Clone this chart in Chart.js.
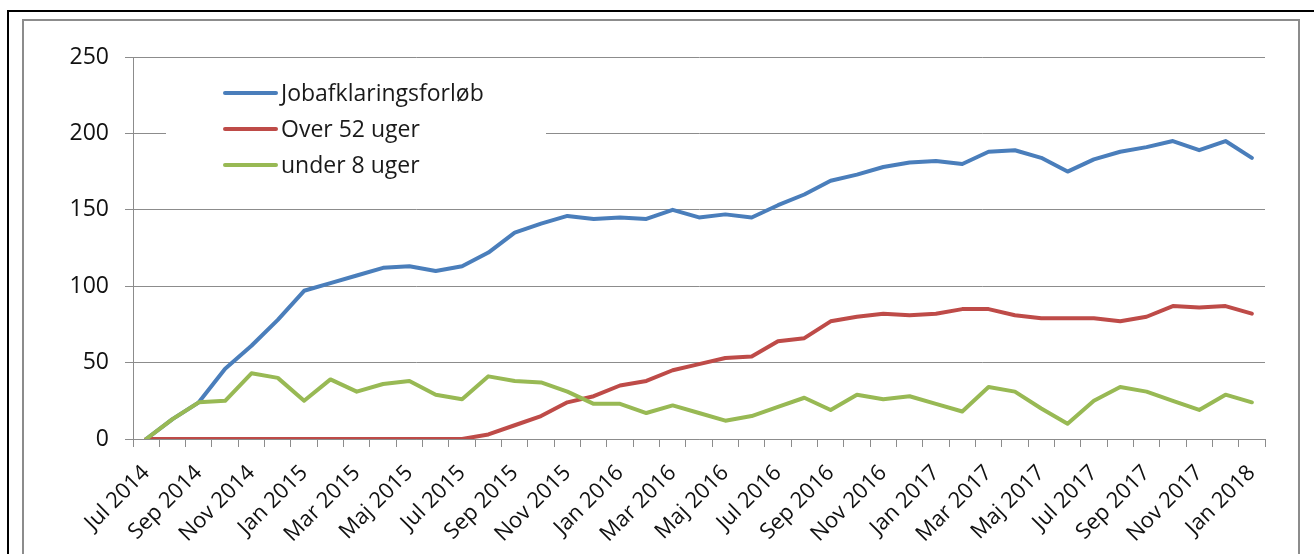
<!DOCTYPE html>
<html>
<head>
<meta charset="utf-8">
<script src="https://cdn.jsdelivr.net/npm/chart.js@4/dist/chart.umd.min.js"></script>
<style>
  html, body { margin: 0; padding: 0; background: #fff; overflow: hidden; }
  #outer { position: absolute; left: 7px; top: 10px; width: 1400px; height: 600px;
           border-top: 2px solid #000; border-left: 2px solid #000; }
  #inner { position: absolute; left: 22px; top: 19px; width: 1274px; height: 600px;
           border: 2px solid #8c8c8c; border-bottom: none; }
  #chart { position: absolute; left: 0; top: 0; }
</style>
</head>
<body>
<div id="outer"></div>
<div id="inner"></div>
<canvas id="chart" width="1314" height="554"></canvas>
<script>
var months = ['Jul 2014', 'Aug 2014', 'Sep 2014', 'Okt 2014', 'Nov 2014', 'Dec 2014',
  'Jan 2015', 'Feb 2015', 'Mar 2015', 'Apr 2015', 'Maj 2015', 'Jun 2015',
  'Jul 2015', 'Aug 2015', 'Sep 2015', 'Okt 2015', 'Nov 2015', 'Dec 2015',
  'Jan 2016', 'Feb 2016', 'Mar 2016', 'Apr 2016', 'Maj 2016', 'Jun 2016',
  'Jul 2016', 'Aug 2016', 'Sep 2016', 'Okt 2016', 'Nov 2016', 'Dec 2016',
  'Jan 2017', 'Feb 2017', 'Mar 2017', 'Apr 2017', 'Maj 2017', 'Jun 2017',
  'Jul 2017', 'Aug 2017', 'Sep 2017', 'Okt 2017', 'Nov 2017', 'Dec 2017',
  'Jan 2018'];

var jobafklaring = [0, 13, 24, 46, 61, 78, 97, 102, 107, 112, 113, 110,
  113, 122, 135, 141, 146, 144, 145, 144, 150, 145, 147, 145,
  153, 160, 169, 173, 178, 181, 182, 180, 188, 189, 184, 175,
  183, 188, 191, 195, 189, 195, 184];

var over52 = [0, 0, 0, 0, 0, 0, 0, 0, 0, 0, 0, 0,
  0, 3, 9, 15, 24, 28, 35, 38, 45, 49, 53, 54,
  64, 66, 77, 80, 82, 81, 82, 85, 85, 81, 79, 79,
  79, 77, 80, 87, 86, 87, 82];

var under8 = [0, 13, 24, 25, 43, 40, 25, 39, 31, 36, 38, 29,
  26, 41, 38, 37, 31, 23, 23, 17, 22, 17, 12, 15,
  21, 27, 19, 29, 26, 28, 23, 18, 34, 31, 20, 10,
  25, 34, 31, 25, 19, 29, 24];

var yTicks = [0, 50, 100, 150, 200, 250];

var FONT = '"Open Sans", "Liberation Sans", sans-serif';

// legend drawn inside the plot, on a white box like the original
var insideLegend = {
  id: 'insideLegend',
  afterDatasetsDraw: function (chart) {
    var ctx = chart.ctx;
    var sets = chart.data.datasets;
    ctx.save();
    ctx.fillStyle = '#fff';
    ctx.fillRect(166, 70, 380, 112);
    ctx.font = '23px ' + FONT;
    ctx.textBaseline = 'middle';
    ctx.lineCap = 'round';
    for (var i = 0; i < sets.length; i++) {
      var y = 93 + i * 36;
      ctx.strokeStyle = sets[i].borderColor;
      ctx.lineWidth = 4;
      ctx.beginPath();
      ctx.moveTo(225, y);
      ctx.lineTo(276, y);
      ctx.stroke();
      ctx.fillStyle = '#1a1a1a';
      ctx.fillText(sets[i].label, 281, y + 1);
    }
    ctx.restore();
  }
};

new Chart(document.getElementById('chart'), {
  type: 'line',
  data: {
    labels: months,
    datasets: [
      { label: 'Jobafklaringsforløb', data: jobafklaring, borderColor: '#4a7ebb', order: 3 },
      { label: 'Over 52 uger', data: over52, borderColor: '#be4b48', order: 2 },
      { label: 'under 8 uger', data: under8, borderColor: '#98b954', order: 1 }
    ]
  },
  options: {
    responsive: false,
    animation: false,
    layout: { padding: { left: 0, top: 57, right: 49, bottom: 0 } },
    elements: {
      line: { borderWidth: 4, tension: 0, borderCapStyle: 'round', borderJoinStyle: 'round' },
      point: { radius: 0, hoverRadius: 0 }
    },
    plugins: { legend: { display: false }, tooltip: { enabled: false } },
    scales: {
      x: {
        offset: true,
        afterFit: function (scale) { scale.height = 115; },
        grid: { offset: true, drawOnChartArea: false, drawTicks: true, tickLength: 8, color: '#8c8c8c' },
        border: { color: '#8c8c8c', width: 1 },
        ticks: {
          autoSkip: false,
          maxRotation: 45,
          minRotation: 45,
          padding: 13,
          color: '#111',
          font: { family: FONT, size: 22 },
          callback: function (val, i) { return i % 2 === 0 ? months[i] : ''; }
        }
      },
      y: {
        min: 0,
        max: 250,
        afterFit: function (scale) { scale.width = 133; },
        afterBuildTicks: function (scale) {
          scale.ticks = yTicks.map(function (v) { return { value: v }; });
        },
        grid: { color: '#8c8c8c', tickLength: 8 },
        border: { color: '#8c8c8c', width: 1 },
        ticks: {
          padding: 16,
          color: '#111',
          font: { family: FONT, size: 23 }
        }
      }
    }
  },
  plugins: [insideLegend]
});
</script>
</body>
</html>
